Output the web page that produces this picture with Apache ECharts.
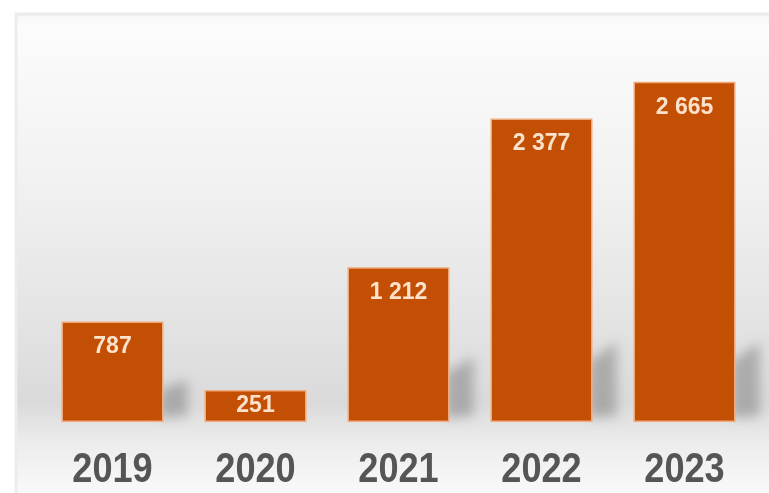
<!DOCTYPE html>
<html>
<head>
<meta charset="utf-8">
<script src="https://cdn.jsdelivr.net/npm/echarts@6/dist/echarts.min.js"></script>
<style>
  html, body { margin: 0; padding: 0; background: #ffffff; }
  #chart { width: 769px; height: 493px; }
</style>
</head>
<body>
<div id="chart"></div>
<script>
// Yearly totals
const years = ['2019', '2020', '2021', '2022', '2023'];
const totals = [787, 251, 1212, 2377, 2665];

const sans = "'Liberation Sans', Arial, sans-serif";

// Space as thousands separator: 2377 -> "2 377"
function fmt(v) {
  return String(v).replace(/\B(?=(\d{3})+(?!\d))/g, ' ');
}

const chart = echarts.init(document.getElementById('chart'), null, { renderer: 'canvas' });

// Soft floor shadow to the right of each bar: the shape itself sits far
// off-canvas and only its blurred shadow is cast back into place.
const SHIFT = 3000;
function renderShadow(params, api) {
  const v = api.value(1);
  const base = api.coord([api.value(0), 0]);
  const top = api.coord([api.value(0), v]);
  const w = api.size([1, 0])[0] * 0.713;
  const xr = base[0] + w / 2 - SHIFT;
  const h = base[1] - top[1];
  const s = Math.min(h * 0.42, 80);
  if (s < 14) return null;
  return {
    type: 'polygon',
    z2: 0,
    shape: {
      points: [
        [xr - 4, base[1] - 4],
        [xr - 4, base[1] - s * 0.75],
        [xr + 24, base[1] - s],
        [xr + 24, base[1] - 6]
      ]
    },
    style: {
      fill: '#000',
      shadowBlur: 12,
      shadowOffsetX: SHIFT,
      shadowColor: 'rgba(130,130,130,0.55)'
    }
  };
}

// Condensed year captions under each bar
function renderYear(params, api) {
  const p = api.coord([api.value(0), 0]);
  return {
    type: 'text',
    x: p[0],
    y: p[1] + 48,
    scaleX: 0.86,
    style: {
      text: years[api.value(0)],
      font: 'bold 42px ' + sans,
      fill: '#555555',
      align: 'center',
      verticalAlign: 'middle'
    }
  };
}

chart.setOption({
  animation: false,
  backgroundColor: '#ffffff',
  graphic: [
    {
      type: 'rect',
      z: -10,
      shape: { x: 16, y: 14, width: 760, height: 485 },
      style: {
        fill: new echarts.graphic.LinearGradient(0, 0, 0, 1, [
          { offset: 0, color: '#f6f6f6' },
          { offset: 0.03, color: '#fcfcfc' },
          { offset: 0.35, color: '#f1f1f1' },
          { offset: 0.62, color: '#e4e4e4' },
          { offset: 0.80, color: '#dadada' },
          { offset: 0.88, color: '#ececec' },
          { offset: 1, color: '#fbfbfb' }
        ]),
        stroke: '#ececec',
        lineWidth: 3
      }
    }
  ],
  grid: { left: 41, right: 13, top: 39, bottom: 71 },
  xAxis: {
    type: 'category',
    data: years,
    axisLine: { show: false },
    axisTick: { show: false },
    axisLabel: { show: false }
  },
  yAxis: {
    type: 'value',
    min: 0,
    max: 3000,
    show: false,
    splitLine: { show: false }
  },
  series: [
    {
      type: 'custom',
      z: 1,
      silent: true,
      clip: false,
      renderItem: renderShadow,
      data: totals.map((v, i) => [i, v])
    },
    {
      type: 'custom',
      z: 3,
      silent: true,
      renderItem: renderYear,
      data: years.map((y, i) => [i, 0])
    },
    {
      type: 'bar',
      z: 2,
      data: totals.map(v => v < 400
        ? { value: v, label: { position: 'inside' } }
        : v),
      barWidth: 102,
      itemStyle: {
        color: '#c24f04',
        borderColor: '#f2a97a',
        borderWidth: 1.5
      },
      label: {
        show: true,
        position: 'insideTop',
        distance: 14,
        formatter: p => fmt(p.value),
        fontFamily: sans,
        fontSize: 23,
        fontWeight: 'bold',
        color: '#fde2cb'
      }
    }
  ]
});
</script>
</body>
</html>
